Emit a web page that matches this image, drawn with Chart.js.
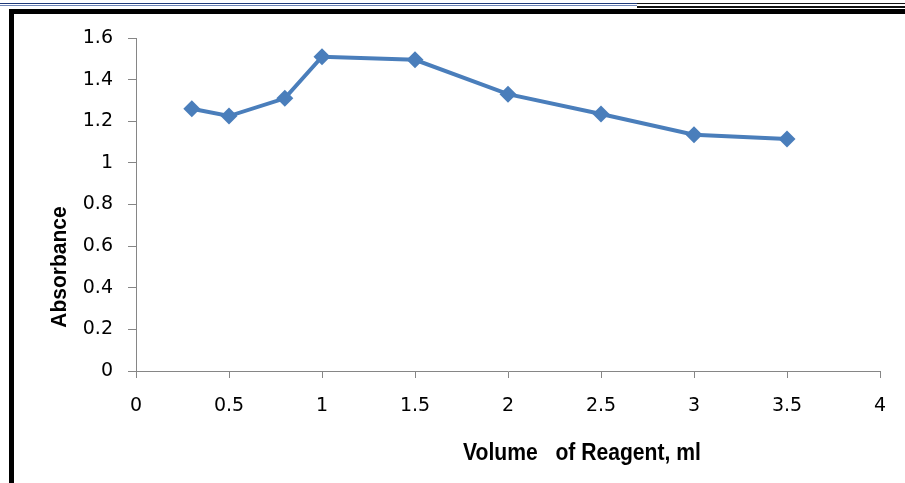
<!DOCTYPE html>
<html>
<head>
<meta charset="utf-8">
<script src="https://cdn.jsdelivr.net/npm/chart.js@4/dist/chart.umd.min.js"></script>
<style>
  html, body { margin: 0; padding: 0; background: #fff; }
  #wrap { position: relative; width: 905px; height: 483px; overflow: hidden; }
  #chart { position: absolute; left: 0; top: 0; }
  .rule { position: absolute; }
</style>
</head>
<body>
<div id="wrap">
  <canvas id="chart" width="905" height="483"></canvas>
  <!-- running header rules -->
  <div class="rule" style="left:0;top:3px;width:637px;height:1px;background:#1f3a7a"></div>
  <div class="rule" style="left:0;top:5px;width:637px;height:1px;background:#6f86b8"></div>
  <div class="rule" style="left:637px;top:3px;width:268px;height:1px;background:#111"></div>
  <div class="rule" style="left:637px;top:6px;width:268px;height:2px;background:#111"></div>
  <!-- page frame -->
  <div class="rule" style="left:9px;top:9px;width:896px;height:5px;background:#000"></div>
  <div class="rule" style="left:9px;top:9px;width:5px;height:474px;background:#000"></div>
</div>
<script>
// Volume of reagent (ml) against absorbance
const volumes = [0.3, 0.5, 0.8, 1.0, 1.5, 2.0, 2.5, 3.0, 3.5];
const absorbance = [1.26, 1.225, 1.31, 1.51, 1.495, 1.33, 1.235, 1.135, 1.115];
const xTitle = 'Volume   of Reagent, ml';
const yTitle = 'Absorbance';

const points = volumes.map((v, i) => ({ x: v, y: absorbance[i] }));
const blue = '#4a7ebb';
const axisGrey = '#868686';
const tickFont = { family: '"DejaVu Sans", Arial, sans-serif', size: 19 };
const plainNumber = v => String(Math.round(v * 10) / 10);

// Axis titles drawn in the spaces beside and below the plot, slightly condensed
const axisTitles = {
  id: 'axisTitles',
  afterDraw(chart) {
    const { ctx, chartArea } = chart;
    ctx.save();
    ctx.fillStyle = '#000';
    ctx.textAlign = 'center';
    ctx.textBaseline = 'middle';

    ctx.save();
    ctx.font = 'bold 24px "Liberation Sans", Arial, sans-serif';
    ctx.translate(chartArea.left + 446, chartArea.bottom + 82);
    ctx.scale(0.88, 1);
    ctx.fillText(xTitle, 0, 0);
    ctx.restore();

    ctx.save();
    ctx.font = 'bold 21px "Liberation Sans", Arial, sans-serif';
    ctx.translate(chartArea.left - 76, chartArea.top + 229);
    ctx.rotate(-Math.PI / 2);
    ctx.scale(1.0, 1.05);
    ctx.fillText(yTitle, 0, 0);
    ctx.restore();

    ctx.restore();
  }
};

new Chart(document.getElementById('chart'), {
  type: 'scatter',
  data: {
    datasets: [{
      data: points,
      showLine: true,
      borderColor: blue,
      backgroundColor: blue,
      borderWidth: 4,
      pointStyle: 'rectRot',
      pointRadius: 8.5,
      pointHoverRadius: 8.5,
      pointBorderWidth: 0,
      tension: 0
    }]
  },
  options: {
    responsive: false,
    animation: false,
    events: [],
    layout: { padding: { left: 0, top: 38, right: 25, bottom: 0 } },
    plugins: { legend: { display: false }, tooltip: { enabled: false } },
    scales: {
      x: {
        type: 'linear',
        min: 0,
        max: 4,
        afterFit(scale) { scale.height = 112; },
        ticks: { stepSize: 0.5, color: '#000', font: tickFont, padding: 17, maxRotation: 0, callback: plainNumber },
        grid: { drawOnChartArea: false, drawTicks: true, tickLength: 7, color: axisGrey },
        border: { color: axisGrey, width: 1 }
      },
      y: {
        min: 0,
        max: 1.6,
        afterFit(scale) { scale.width = 136; },
        ticks: { stepSize: 0.2, color: '#000', font: tickFont, padding: 15, callback: plainNumber },
        grid: { drawOnChartArea: false, drawTicks: true, tickLength: 8, color: axisGrey },
        border: { color: axisGrey, width: 1 }
      }
    }
  },
  plugins: [axisTitles]
});
</script>
</body>
</html>
